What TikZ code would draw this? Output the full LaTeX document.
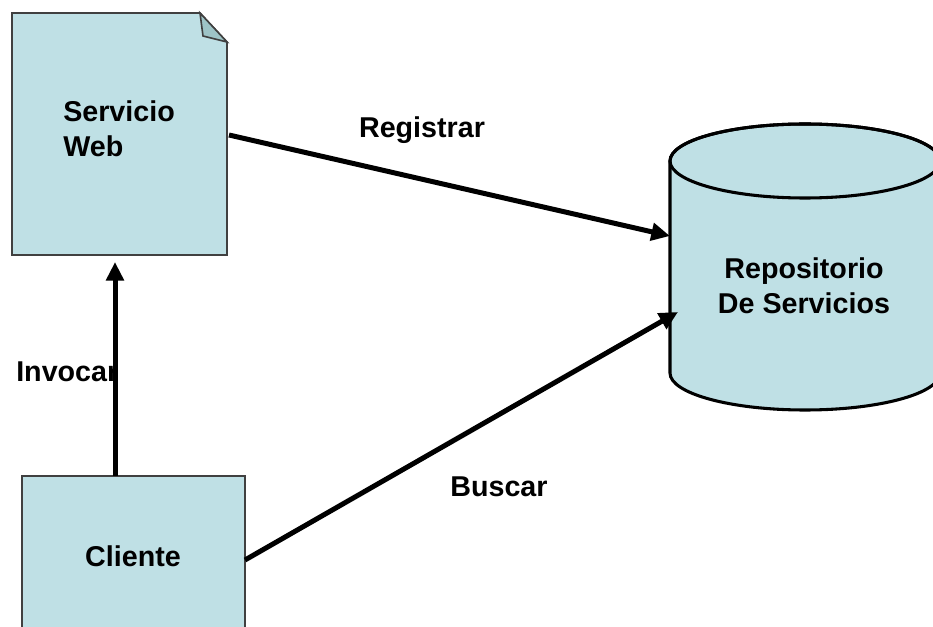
\documentclass[tikz,border=0pt]{standalone}
\usepackage{fontspec}
\setmainfont{Liberation Sans}
\usetikzlibrary{arrows.meta}
\definecolor{boxfill}{RGB}{191,224,229}
\definecolor{foldfill}{RGB}{158,196,199}
\definecolor{boxline}{RGB}{64,64,64}
\tikzset{
  lbl/.style={inner sep=0.75pt, font=\bfseries\fontsize{21.5}{26}\selectfont},
  flow/.style={line width=3.75pt, -{Triangle[length=14pt,width=13pt]}}
}
\begin{document}
\begin{tikzpicture}[x=0.75pt,y=0.75pt,yscale=-1,xscale=1]
\useasboundingbox (0,0) rectangle (933,627);
\clip (0,0) rectangle (933,627);

%Shape: Document
\draw [boxline, line width=1.2pt, fill=boxfill] (12,13) -- (200,13) -- (227,42) -- (227,255) -- (12,255) -- cycle ;
\draw [boxline, line width=1.2pt, fill=foldfill] (200,13) -- (203,36) -- (227,42) -- cycle ;
%Shape: Rectangle
\draw [boxline, line width=1.2pt, fill=boxfill] (22,476) -- (245,476) -- (245,640) -- (22,640) -- cycle ;
%Shape: Can
\draw [line width=2.3pt, fill=boxfill] (670,161) -- (670,373) arc (180:0:135 and 37) -- (940,161) arc (0:-180:135 and 37) -- cycle ;
\draw [line width=2.3pt] (805,161) ellipse (135 and 37) ;

% Text Node
\node (servicio) at (62,129) [anchor=west, lbl, align=left] {Servicio\\Web};
% Text Node
\node (repo) at (804,286) [lbl, align=center] {Repositorio\\De Servicios};
% Text Node
\node (cliente) at (133,556) [lbl] {Cliente};
% Text Node
\node (registrar) at (422,130) [lbl] {Registrar};
% Text Node
\node (buscar) at (499,487) [lbl] {Buscar};
% Text Node
\node (invocar) at (15,372) [anchor=west, lbl] {Invocar};

\coordinate (sw-out) at (229,135);
\coordinate (sw-in) at (115,262);
\coordinate (repo-top) at (670,236);
\coordinate (repo-low) at (678,312);
\coordinate (cl-top) at (115,476);
\coordinate (cl-out) at (245,560);

%Straight Lines
\draw [flow] (sw-out) -- (repo-top) ;
\draw [flow] (cl-out) -- (repo-low) ;
\draw [flow] (cl-top) -- (sw-in) ;

\end{tikzpicture}
\end{document}
